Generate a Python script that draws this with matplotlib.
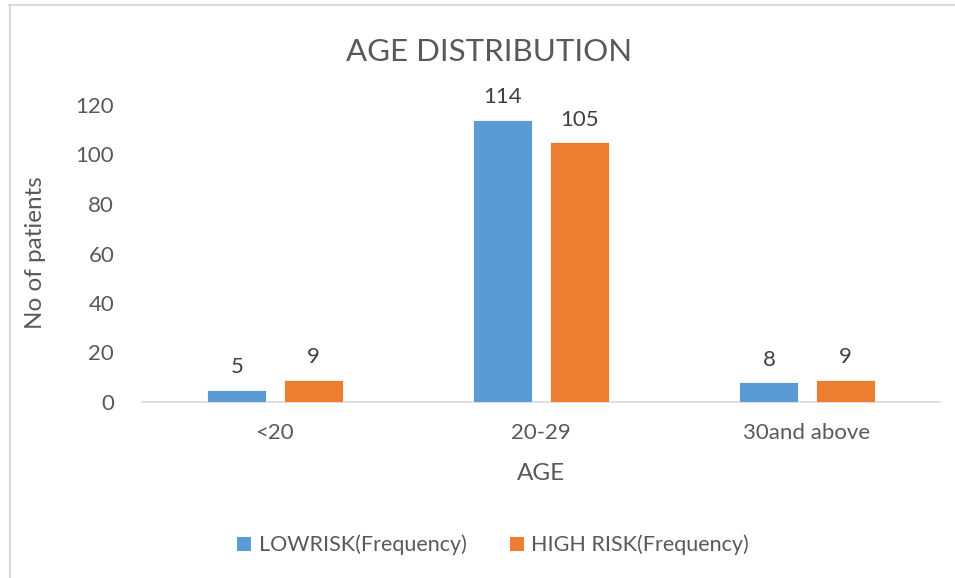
import matplotlib
matplotlib.use("Agg")
import matplotlib.pyplot as plt
from matplotlib.lines import Line2D
from matplotlib.patches import Patch
import numpy as np

categories = ["<20", "20-29", "30and above"]
low_risk = [5, 114, 8]
high_risk = [9, 105, 9]
series_names = ["LOWRISK(Frequency)", "HIGH RISK(Frequency)"]
yticks = [0, 20, 40, 60, 80, 100, 120]

W, H = 955, 578
plt.rcParams['font.family'] = ['Lato', 'DejaVu Sans']
TXT = '#595959'
BLUE = '#5B9BD5'
ORANGE = '#ED7D31'

fig = plt.figure(figsize=(W/100, H/100), dpi=100)
# axes box in pixels: left 142, right 940, top 105, bottom 402
ax = fig.add_axes([142/W, 1-402/H, (940-142)/W, (402-105)/H])

x = np.arange(len(categories))
bw = 0.222
off = 0.143
b1 = ax.bar(x - off, low_risk, bw, color=BLUE, edgecolor='white', linewidth=0.6, zorder=3)
b2 = ax.bar(x + off, high_risk, bw, color=ORANGE, edgecolor='white', linewidth=0.6, zorder=3)
for bars, vals in ((b1, low_risk), (b2, high_risk)):
    for r, v in zip(bars, vals):
        ax.annotate(str(v), (r.get_x() + r.get_width()/2, r.get_height()),
                    xytext=(0, 9), textcoords='offset points', ha='center', va='bottom',
                    fontsize=16, color='#404040')

ax.set_xlim(-0.5, len(categories) - 0.5)
ax.set_ylim(0, 120)
ax.set_yticks(yticks)
ax.set_xticks(x)
ax.set_xticklabels(categories)
ax.tick_params(axis='both', length=0, labelsize=16, labelcolor=TXT)
ax.tick_params(axis='y', pad=20)
ax.tick_params(axis='x', pad=15)
for s in ['top', 'right', 'left']:
    ax.spines[s].set_visible(False)
ax.spines['bottom'].set_color('#D9D9D9')
ax.spines['bottom'].set_linewidth(1.2)

fig.text(541/W, 1-473/H, "AGE", ha='center', va='center', fontsize=17.5, color=TXT)
fig.text(36/W, 1-253/H, "No of patients", ha='center', va='center', rotation=90,
         fontsize=17.5, color=TXT)
fig.text(489/W, 1-52/H, "AGE DISTRIBUTION", ha='center', va='center', fontsize=22.5, color=TXT)

handles = [Patch(facecolor=BLUE), Patch(facecolor=ORANGE)]
fig.legend(handles, series_names, loc='center', bbox_to_anchor=(493/W, 1-545/H),
           ncol=2, frameon=False, fontsize=15.5, labelcolor=TXT,
           handlelength=0.65, handleheight=0.65, handletextpad=0.35, columnspacing=2.0)

# chart area border (top and left visible)
fig.add_artist(Line2D([9/W, 1], [1-5/H, 1-5/H], color='#D9D9D9', linewidth=1.5))
fig.add_artist(Line2D([9.5/W, 9.5/W], [0, 1-5/H], color='#D9D9D9', linewidth=1.5))

fig.savefig("out.png", dpi=100, facecolor='white')
